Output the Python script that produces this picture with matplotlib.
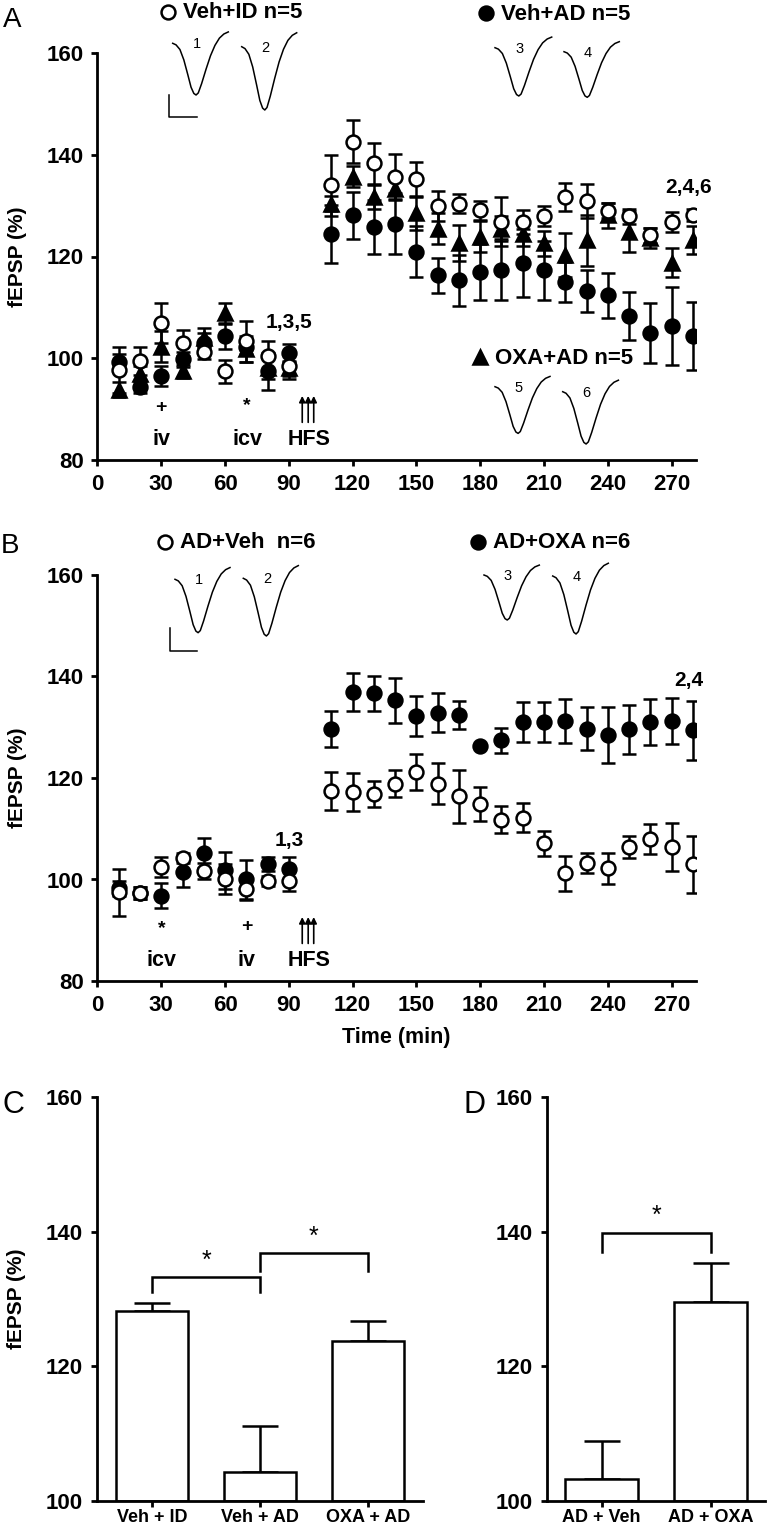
import matplotlib
matplotlib.use('Agg')
import matplotlib.pyplot as plt

plt.rcParams['font.family'] = ['Liberation Sans', 'DejaVu Sans']

# --- time course data (min, % baseline) ---
times = [10, 20, 30, 40, 50, 60, 70, 80, 90,
         110, 120, 130, 140, 150, 160, 170, 180, 190,
         200, 210, 220, 230, 240, 250, 260, 270, 280]

# panel A
veh_id = [97.7, 99.5, 106.9, 103.0, 101.3, 97.4, 103.3, 100.5, 98.4,
          134.0, 142.6, 138.3, 135.7, 135.2, 129.9, 130.4, 129.1, 126.8,
          126.8, 127.9, 131.7, 130.9, 129.0, 127.9, 124.2, 126.8, 128.1]
veh_id_sem = [4.5, 2.7, 4.0, 2.5, 1.5, 2.3, 4.0, 2.8, 2.5,
              6.0, 4.2, 4.0, 4.4, 3.4, 3.0, 1.8, 1.9, 4.8,
              2.3, 2.0, 2.7, 3.4, 1.5, 1.5, 1.5, 2.0, 1.2]
veh_ad = [99.3, 94.4, 96.5, 99.8, 103.0, 104.3, 102.3, 97.4, 101.0,
          124.5, 128.1, 125.8, 126.4, 120.9, 116.3, 115.3, 117.0, 117.4,
          118.8, 117.3, 115.0, 113.2, 112.4, 108.3, 104.9, 106.3, 104.3]
veh_ad_sem = [1.5, 1.2, 2.0, 1.5, 2.0, 2.5, 1.5, 3.6, 1.8,
              5.7, 4.6, 5.4, 6.0, 5.0, 3.5, 5.0, 5.5, 6.0,
              6.7, 5.8, 4.0, 4.2, 4.4, 4.8, 5.9, 7.7, 6.7]
oxa_ad = [93.8, 97.0, 102.3, 97.4, 104.0, 108.9, 101.8, 98.0, 98.0,
          130.4, 135.7, 131.7, 133.2, 128.5, 125.5, 122.6, 123.9, 125.5,
          124.5, 122.6, 120.3, 123.2, 128.1, 124.9, 123.6, 118.8, 123.2]
oxa_ad_sem = [1.5, 1.5, 3.0, 1.2, 2.0, 2.0, 2.5, 2.0, 1.5,
              1.5, 2.0, 2.3, 2.0, 3.2, 3.0, 3.5, 3.0, 2.5,
              2.5, 2.5, 4.4, 5.0, 2.5, 4.0, 2.0, 2.8, 2.7]

# panel B
ad_veh = [97.5, 97.3, 102.4, 104.3, 101.6, 100.1, 98.2, 99.7, 99.7,
          117.4, 117.2, 116.8, 118.9, 121.2, 118.9, 116.4, 114.9, 111.8,
          112.2, 107.1, 101.2, 103.2, 102.2, 106.4, 108.0, 106.4, 103.0]
ad_veh_sem = [4.6, 1.2, 2.0, 1.0, 1.6, 2.9, 2.2, 1.0, 2.0,
              3.8, 3.8, 2.6, 2.6, 3.5, 4.0, 5.2, 3.4, 2.6,
              2.8, 2.5, 3.5, 2.0, 3.1, 2.2, 3.0, 4.8, 5.6]
ad_oxa = [98.3, 97.3, 96.8, 101.4, 105.2, 101.8, 100.0, 103.0, 102.1,
          129.7, 136.9, 136.7, 135.3, 132.2, 132.9, 132.4, 126.3, 127.4,
          131.0, 131.0, 131.2, 129.7, 128.4, 129.6, 131.0, 131.2, 129.4]
ad_oxa_sem = [1.5, 1.2, 2.5, 2.9, 3.0, 3.7, 3.9, 1.4, 2.3,
              3.6, 3.7, 3.4, 4.5, 4.0, 3.8, 2.7, 0.0, 2.5,
              4.0, 4.0, 4.3, 4.2, 5.5, 4.8, 4.5, 4.5, 5.8]

# --- bar data (last time point) ---
c_labels = ['Veh + ID', 'Veh + AD', 'OXA + AD']
c_means = [128.2, 104.3, 123.7]
c_sem = [1.2, 6.8, 3.0]
d_labels = ['AD + Veh', 'AD + OXA']
d_means = [103.2, 129.5]
d_sem = [5.7, 5.8]

# fEPSP trace template (fraction of width, fraction of depth)
trace_x = [0, 0.06, 0.13, 0.2, 0.27, 0.33, 0.38, 0.42, 0.46, 0.52, 0.6, 0.68, 0.76, 0.84, 0.92, 1.0]
trace_y = [0, 0.03, 0.12, 0.32, 0.6, 0.85, 0.97, 1.0, 0.96, 0.78, 0.5, 0.24, 0.04, -0.1, -0.18, -0.22]

W, H = 770, 1532
fig = plt.figure(figsize=(W / 100, H / 100), dpi=100)


def px_axes(l, t, r, b):
    return fig.add_axes([l / W, 1 - b / H, (r - l) / W, (b - t) / H])


def style(ax):
    for s in ['top', 'right']:
        ax.spines[s].set_visible(False)
    for s in ['left', 'bottom']:
        ax.spines[s].set_linewidth(2.0)
    ax.tick_params(direction='out', length=4, width=2, labelsize=16, pad=6)
    for lab in ax.get_xticklabels() + ax.get_yticklabels():
        lab.set_fontweight('bold')


eb = dict(ms=10, mec='k', mew=1.8, ecolor='k', elinewidth=1.8, capsize=5,
          capthick=1.8, linestyle='none')


def timecourse(ax):
    ax.set_xlim(0, 281.5)
    ax.set_ylim(80, 160)
    ax.set_xticks(range(0, 271, 30))
    ax.set_yticks(range(80, 161, 20))
    style(ax)
    ax.set_ylabel('fEPSP (%)', fontsize=15, fontweight='bold')
    ax.yaxis.set_label_coords(-0.118, 0.5)


def hfs(ax):
    for x in [96.3, 99.1, 101.7]:
        ax.annotate('', xy=(x, 92.6), xytext=(x, 87.4),
                    arrowprops=dict(arrowstyle='-|>', lw=1.2, color='k',
                                    mutation_scale=9, shrinkA=0, shrinkB=0))
    ax.text(99.5, 84, 'HFS', ha='center', va='center', fontsize=15.5, fontweight='bold')


# ---------- panel A ----------
axA = px_axes(97.5, 53, 696, 460)
timecourse(axA)
axA.errorbar(times, veh_ad, yerr=veh_ad_sem, marker='o', mfc='k', **eb)
axA.errorbar(times, oxa_ad, yerr=oxa_ad_sem, marker='^', mfc='k', **eb)
axA.errorbar(times, veh_id, yerr=veh_id_sem, marker='o', mfc='white', **eb)
axA.text(30, 90.4, '+', ha='center', va='center', fontsize=14, fontweight='bold')
axA.text(30, 84, 'iv', ha='center', va='center', fontsize=15.5, fontweight='bold')
axA.text(70, 90.6, '*', ha='center', va='center', fontsize=14, fontweight='bold')
axA.text(70.5, 84, 'icv', ha='center', va='center', fontsize=15.5, fontweight='bold')
hfs(axA)
axA.text(90, 107.0, '1,3,5', ha='center', va='center', fontsize=15, fontweight='bold')
axA.text(278, 133.6, '2,4,6', ha='center', va='center', fontsize=15, fontweight='bold')

# ---------- panel B ----------
axB = px_axes(97.5, 575, 696, 981)
timecourse(axB)
axB.errorbar(times, ad_oxa, yerr=ad_oxa_sem, marker='o', mfc='k', **eb)
axB.errorbar(times, ad_veh, yerr=ad_veh_sem, marker='o', mfc='white', **eb)
axB.text(30, 90.4, '*', ha='center', va='center', fontsize=14, fontweight='bold')
axB.text(30, 84, 'icv', ha='center', va='center', fontsize=15.5, fontweight='bold')
axB.text(70, 90.7, '+', ha='center', va='center', fontsize=14, fontweight='bold')
axB.text(70, 84, 'iv', ha='center', va='center', fontsize=15.5, fontweight='bold')
hfs(axB)
axB.text(90, 107.7, '1,3', ha='center', va='center', fontsize=15, fontweight='bold')
axB.text(278, 139.3, '2,4', ha='center', va='center', fontsize=15, fontweight='bold')
axB.set_xlabel('Time (min)', fontsize=15.5, fontweight='bold', labelpad=8)


# ---------- bar panels ----------
def bars(ax, labels, means, sem):
    pos = list(range(len(labels)))
    ax.bar(pos, [m - 100 for m in means], bottom=100, width=0.67, color='white',
           edgecolor='k', linewidth=1.8, zorder=2)
    ax.errorbar(pos, means, yerr=[[0] * len(sem), sem], fmt='none', ecolor='k',
                elinewidth=1.8, capsize=13, capthick=1.8, zorder=1)
    ax.set_ylim(100, 160)
    ax.set_yticks([100, 120, 140, 160])
    ax.set_xticks(pos)
    ax.set_xticklabels(labels)
    style(ax)
    ax.tick_params(axis='x', labelsize=13, pad=2)
    for lab in ax.get_xticklabels():
        lab.set_fontweight('bold')


def bracket(ax, x0, x1, y, leg, star_y):
    ax.plot([x0, x0, x1, x1], [y - leg, y, y, y - leg], color='k', lw=1.8,
            solid_joinstyle='miter')
    ax.text((x0 + x1) / 2, star_y, '*', ha='center', va='center', fontsize=18)


axC = px_axes(97, 1097, 423, 1501)
axC.set_xlim(-0.51, 2.51)
bars(axC, c_labels, c_means, c_sem)
axC.set_ylabel('fEPSP (%)', fontsize=15, fontweight='bold')
axC.yaxis.set_label_coords(-0.218, 0.5)
bracket(axC, 0, 1, 133.2, 2.1, 135.6)
bracket(axC, 1, 2, 136.9, 2.8, 139.3)

axD = px_axes(547, 1097, 765, 1501)
axD.set_xlim(-0.5, 1.5)
bars(axD, d_labels, d_means, d_sem)
bracket(axD, 0, 1, 139.8, 2.8, 142.3)

# ---------- overlay: legends, traces, panel letters ----------
ov = fig.add_axes([0, 0, 1, 1])
ov.set_xlim(0, W)
ov.set_ylim(H, 0)
ov.axis('off')
ov.patch.set_alpha(0)

legend_items = [
    ('o', 'white', 168, 12, 'Veh+ID n=5'),
    ('o', 'k', 486, 13, 'Veh+AD n=5'),
    ('^', 'k', 480, 357, 'OXA+AD n=5'),
    ('o', 'white', 165, 542, 'AD+Veh  n=6'),
    ('o', 'k', 478, 542, 'AD+OXA n=6'),
]
for mk, fc, x, y, txt in legend_items:
    ov.plot([x], [y], marker=mk, ms=10, mfc=fc, mec='k', mew=1.8)
    ov.text(x + 15, y + 1, txt, ha='left', va='center', fontsize=16, fontweight='bold')

# (x0, y0, width, depth, number)
traces = [
    (172.7, 43.3, 55.6, 51.7, '1'), (241.7, 46.7, 55.0, 63.3, '2'),
    (495.0, 47.7, 56.7, 48.3, '3'), (564.0, 51.7, 55.3, 45.6, '4'),
    (495.0, 386.7, 55.0, 46.7, '5'), (562.7, 391.7, 55.7, 52.3, '6'),
    (175.0, 579.3, 55.0, 53.4, '1'), (243.3, 578.3, 55.0, 57.7, '2'),
    (484.0, 575.0, 55.3, 45.0, '3'), (552.7, 576.0, 55.6, 58.0, '4'),
]
for x0, y0, w, d, num in traces:
    ov.plot([x0 + w * fx for fx in trace_x], [y0 + d * fy for fy in trace_y],
            color='k', lw=1.1)
    ov.text(x0 + 0.43 * w, y0 + 1, num, ha='center', va='center', fontsize=10.5)

# scale bars
for xs, ytop, ybot, xe in [(169.3, 95, 116.7, 196.7), (170, 628.3, 650.7, 196.7)]:
    ov.plot([xs, xs, xe], [ytop, ybot, ybot], color='k', lw=1.1)

for letter, x, y, fs in [('A', 3, 27, 20), ('B', 1, 553, 20), ('C', 2, 1113, 22), ('D', 464, 1113, 22)]:
    ov.text(x, y, letter, ha='left', va='baseline', fontsize=fs)

fig.savefig('out.png', dpi=100)
